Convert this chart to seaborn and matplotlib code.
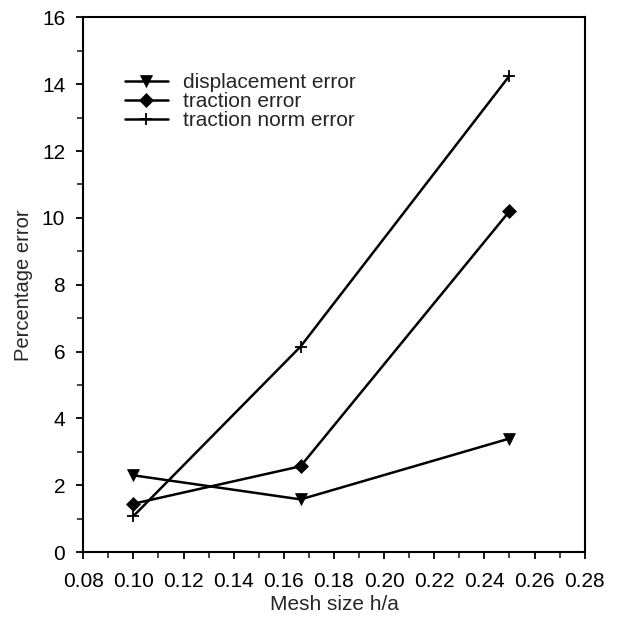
import numpy as np
import pandas as pd
import matplotlib
matplotlib.use("Agg")
import matplotlib.pyplot as plt
from matplotlib.ticker import MultipleLocator, FormatStrFormatter
import seaborn as sns

# values
mesh_size = [0.10, 1 / 6, 0.25]
displacement_error = [2.3, 1.58, 3.4]
traction_error = [1.45, 2.57, 10.2]
traction_norm_error = [1.08, 6.15, 14.25]

series_names = ["displacement error", "traction error", "traction norm error"]
series_values = [displacement_error, traction_error, traction_norm_error]
series_markers = ["v", "D", "+"]

sns.set_style("ticks")
plt.rcParams["font.family"] = ["Liberation Sans", "DejaVu Sans"]

fig, ax = plt.subplots(figsize=(6.26, 6.17), dpi=100)

for name, vals, mk in zip(series_names, series_values, series_markers):
    df = pd.DataFrame({"h": mesh_size, "err": vals})
    sns.lineplot(data=df, x="h", y="err", ax=ax, color="black", lw=1.8,
                 marker=mk, markersize=9 if mk != "D" else 7,
                 markeredgewidth=1.3 if mk == "+" else 0.5,
                 markeredgecolor="black", label=name)

ax.set_xlim(0.08, 0.28)
ax.set_ylim(0, 16)
ax.xaxis.set_major_locator(MultipleLocator(0.02))
ax.xaxis.set_minor_locator(MultipleLocator(0.01))
ax.yaxis.set_major_locator(MultipleLocator(2))
ax.yaxis.set_minor_locator(MultipleLocator(1))
ax.xaxis.set_major_formatter(FormatStrFormatter("%.2f"))
ax.tick_params(which="major", direction="out", length=5, width=1.3, labelsize=15, colors="black")
ax.tick_params(axis="x", which="major", pad=9)
ax.tick_params(axis="y", which="major", pad=8)
ax.tick_params(which="minor", direction="out", length=4, width=1.2)
for s in ax.spines.values():
    s.set_linewidth(1.5)
    s.set_color("black")

ax.set_xlabel("Mesh size h/a", fontsize=15, labelpad=3)
ax.set_ylabel("Percentage error", fontsize=14.5, labelpad=6)

ax.legend(loc="upper left", bbox_to_anchor=(0.045, 0.93), frameon=False,
          fontsize=15, handlelength=2.1, handletextpad=0.7, labelspacing=0.0)

fig.subplots_adjust(left=0.133, right=0.934, top=0.972, bottom=0.105)
fig.savefig("out.png", dpi=100)
